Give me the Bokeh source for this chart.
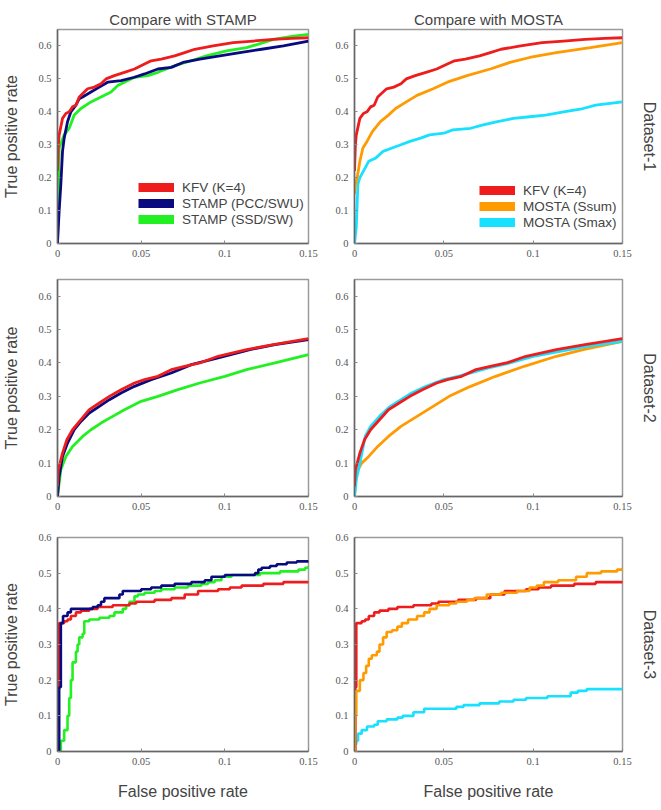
import math
from bokeh.plotting import figure
from bokeh.models import Range1d, FixedTicker, Legend, LegendItem, LinearAxis
from bokeh.layouts import column, row
from bokeh.embed import file_html
from bokeh.resources import INLINE

# ---------------- data ----------------
x_ticks = [0, 0.05, 0.1, 0.15]
x_tick_labels = ["0", "0.05", "0.1", "0.15"]
y_ticks = [0, 0.1, 0.2, 0.3, 0.4, 0.5, 0.6]
y_tick_labels = ["0", "0.1", "0.2", "0.3", "0.4", "0.5", "0.6"]

col_titles = ["Compare with STAMP", "Compare with MOSTA"]
row_titles = ["Dataset-1", "Dataset-2", "Dataset-3"]
y_label = "True positive rate"
x_label = "False positive rate"
legend_left = ["KFV (K=4)", "STAMP (PCC/SWU)", "STAMP (SSD/SW)"]
legend_right = ["KFV (K=4)", "MOSTA (Ssum)", "MOSTA (Smax)"]

# Dataset-1
d1_kfv_x = [0, 0.0005, 0.001, 0.003, 0.005, 0.007, 0.009, 0.011, 0.013, 0.016, 0.018, 0.022, 0.026, 0.029, 0.034, 0.040, 0.046, 0.052, 0.056, 0.062, 0.070, 0.076, 0.082, 0.093, 0.105, 0.117, 0.129, 0.140, 0.150]
d1_kfv_y = [0.22, 0.30, 0.33, 0.38, 0.395, 0.40, 0.415, 0.42, 0.445, 0.46, 0.47, 0.475, 0.485, 0.50, 0.51, 0.52, 0.53, 0.545, 0.555, 0.56, 0.57, 0.58, 0.59, 0.60, 0.61, 0.615, 0.62, 0.623, 0.625]
d1_pcc_x = [0, 0.001, 0.002, 0.003, 0.004, 0.006, 0.008, 0.011, 0.013, 0.015, 0.020, 0.025, 0.030, 0.038, 0.046, 0.052, 0.060, 0.068, 0.075, 0.085, 0.097, 0.109, 0.122, 0.135, 0.150]
d1_pcc_y = [0, 0.10, 0.18, 0.28, 0.32, 0.37, 0.40, 0.42, 0.44, 0.445, 0.46, 0.475, 0.49, 0.495, 0.505, 0.515, 0.53, 0.535, 0.55, 0.56, 0.57, 0.58, 0.59, 0.60, 0.615]
d1_ssd_x = [0, 0.0005, 0.001, 0.004, 0.007, 0.010, 0.014, 0.020, 0.026, 0.032, 0.036, 0.040, 0.046, 0.054, 0.060, 0.070, 0.080, 0.089, 0.101, 0.113, 0.123, 0.129, 0.141, 0.150]
d1_ssd_y = [0, 0.15, 0.29, 0.33, 0.35, 0.39, 0.41, 0.43, 0.445, 0.46, 0.48, 0.49, 0.505, 0.51, 0.52, 0.54, 0.555, 0.57, 0.585, 0.595, 0.61, 0.62, 0.63, 0.635]
d1_ssum_x = [0, 0.0005, 0.0015, 0.003, 0.0047, 0.007, 0.010, 0.0145, 0.019, 0.023, 0.029, 0.035, 0.044, 0.052, 0.063, 0.076, 0.087, 0.098, 0.113, 0.132, 0.150]
d1_ssum_y = [0.15, 0.18, 0.20, 0.25, 0.29, 0.31, 0.34, 0.37, 0.39, 0.41, 0.43, 0.45, 0.47, 0.49, 0.51, 0.53, 0.55, 0.565, 0.58, 0.595, 0.61]
d1_smax_x = [0, 0.001, 0.0019, 0.003, 0.005, 0.008, 0.012, 0.016, 0.021, 0.026, 0.031, 0.037, 0.042, 0.050, 0.055, 0.065, 0.072, 0.080, 0.089, 0.098, 0.107, 0.117, 0.128, 0.135, 0.150]
d1_smax_y = [0, 0.05, 0.18, 0.20, 0.22, 0.25, 0.26, 0.28, 0.29, 0.30, 0.31, 0.32, 0.33, 0.335, 0.345, 0.35, 0.36, 0.37, 0.38, 0.385, 0.39, 0.40, 0.41, 0.42, 0.43]

# Dataset-2
d2_kfv_x = [0, 0.0005, 0.002, 0.003, 0.0056, 0.009, 0.014, 0.019, 0.025, 0.031, 0.038, 0.046, 0.052, 0.060, 0.068, 0.076, 0.085, 0.096, 0.113, 0.129, 0.150]
d2_kfv_y = [0.03, 0.08, 0.11, 0.13, 0.17, 0.20, 0.23, 0.26, 0.28, 0.30, 0.32, 0.34, 0.35, 0.36, 0.38, 0.39, 0.40, 0.42, 0.44, 0.455, 0.473]
d2_pcc_x = [0, 0.001, 0.003, 0.006, 0.010, 0.014, 0.019, 0.025, 0.031, 0.038, 0.046, 0.056, 0.068, 0.080, 0.096, 0.115, 0.130, 0.150]
d2_pcc_y = [0, 0.06, 0.12, 0.16, 0.20, 0.225, 0.25, 0.27, 0.29, 0.31, 0.33, 0.35, 0.37, 0.395, 0.415, 0.44, 0.455, 0.47]
d2_ssd_x = [0, 0.001, 0.002, 0.005, 0.009, 0.015, 0.020, 0.026, 0.033, 0.040, 0.050, 0.060, 0.072, 0.085, 0.100, 0.113, 0.130, 0.150]
d2_ssd_y = [0, 0.04, 0.08, 0.12, 0.15, 0.18, 0.20, 0.22, 0.24, 0.26, 0.285, 0.30, 0.32, 0.34, 0.36, 0.38, 0.40, 0.425]
d2_ssum_x = [0, 0.001, 0.004, 0.008, 0.013, 0.019, 0.026, 0.035, 0.044, 0.053, 0.065, 0.079, 0.095, 0.113, 0.128, 0.150]
d2_ssum_y = [0, 0.07, 0.10, 0.12, 0.15, 0.18, 0.21, 0.24, 0.27, 0.30, 0.33, 0.36, 0.39, 0.42, 0.44, 0.465]
d2_smax_x = [0, 0.001, 0.003, 0.006, 0.009, 0.014, 0.020, 0.026, 0.032, 0.040, 0.050, 0.058, 0.065, 0.075, 0.087, 0.100, 0.115, 0.130, 0.150]
d2_smax_y = [0, 0.05, 0.10, 0.18, 0.21, 0.24, 0.27, 0.29, 0.31, 0.33, 0.35, 0.36, 0.37, 0.385, 0.40, 0.42, 0.435, 0.45, 0.465]

# Dataset-3
d3_kfv_x = [0, 0.0005, 0.001, 0.004, 0.006, 0.008, 0.011, 0.014, 0.019, 0.024, 0.033, 0.043, 0.047, 0.058, 0.068, 0.076, 0.084, 0.096, 0.103, 0.110, 0.123, 0.135, 0.150]
d3_kfv_y = [0, 0.18, 0.36, 0.365, 0.37, 0.38, 0.39, 0.395, 0.40, 0.405, 0.41, 0.415, 0.42, 0.425, 0.43, 0.44, 0.45, 0.455, 0.46, 0.465, 0.47, 0.475, 0.478]
d3_pcc_x = [0, 0.001, 0.002, 0.0033, 0.006, 0.008, 0.021, 0.024, 0.026, 0.028, 0.037, 0.039, 0.050, 0.056, 0.062, 0.070, 0.080, 0.088, 0.092, 0.100, 0.118, 0.120, 0.122, 0.127, 0.131, 0.137, 0.143, 0.150]
d3_pcc_y = [0, 0.18, 0.36, 0.38, 0.39, 0.40, 0.405, 0.41, 0.42, 0.43, 0.44, 0.45, 0.455, 0.46, 0.465, 0.47, 0.475, 0.48, 0.49, 0.495, 0.50, 0.51, 0.515, 0.52, 0.525, 0.53, 0.533, 0.535]
d3_ssd_x = [0, 0.002, 0.004, 0.006, 0.007, 0.008, 0.009, 0.011, 0.012, 0.013, 0.015, 0.016, 0.019, 0.025, 0.031, 0.034, 0.039, 0.041, 0.043, 0.046, 0.048, 0.052, 0.058, 0.062, 0.070, 0.078, 0.086, 0.090, 0.094, 0.098, 0.104, 0.121, 0.133, 0.144, 0.148, 0.150]
d3_ssd_y = [0, 0.03, 0.06, 0.10, 0.15, 0.20, 0.25, 0.28, 0.30, 0.32, 0.33, 0.365, 0.37, 0.375, 0.38, 0.39, 0.40, 0.41, 0.42, 0.435, 0.44, 0.445, 0.45, 0.455, 0.46, 0.465, 0.47, 0.475, 0.48, 0.49, 0.495, 0.50, 0.505, 0.51, 0.515, 0.52]
d3_ssum_x = [0, 0.0003, 0.001, 0.003, 0.005, 0.0065, 0.008, 0.0097, 0.0125, 0.014, 0.016, 0.018, 0.021, 0.024, 0.0265, 0.030, 0.035, 0.039, 0.042, 0.046, 0.053, 0.057, 0.063, 0.067, 0.074, 0.082, 0.091, 0.098, 0.102, 0.106, 0.114, 0.124, 0.130, 0.138, 0.147, 0.150]
d3_ssum_y = [0, 0.10, 0.17, 0.20, 0.22, 0.24, 0.26, 0.27, 0.28, 0.30, 0.32, 0.335, 0.34, 0.35, 0.36, 0.37, 0.38, 0.39, 0.40, 0.41, 0.415, 0.42, 0.425, 0.43, 0.44, 0.445, 0.45, 0.46, 0.465, 0.475, 0.48, 0.49, 0.50, 0.505, 0.51, 0.515]
d3_smax_x = [0, 0.001, 0.002, 0.004, 0.007, 0.011, 0.013, 0.018, 0.024, 0.027, 0.033, 0.039, 0.057, 0.061, 0.070, 0.081, 0.089, 0.096, 0.108, 0.121, 0.125, 0.130, 0.150]
d3_smax_y = [0.02, 0.03, 0.05, 0.06, 0.07, 0.075, 0.085, 0.09, 0.095, 0.10, 0.11, 0.12, 0.125, 0.13, 0.135, 0.14, 0.145, 0.15, 0.155, 0.165, 0.17, 0.175, 0.175]

y_max = [0.65, 0.65, 0.6]

C_RED = "#ee1c1c"
C_NAVY = "#0a0a80"
C_GREEN = "#22f022"
C_ORANGE = "#ff9a00"
C_CYAN = "#18e0ff"

SANS = "Liberation Sans"
TICKF = "Liberation Serif"

left_series = [
    [(d1_ssd_x, d1_ssd_y, C_GREEN), (d1_pcc_x, d1_pcc_y, C_NAVY), (d1_kfv_x, d1_kfv_y, C_RED)],
    [(d2_ssd_x, d2_ssd_y, C_GREEN), (d2_pcc_x, d2_pcc_y, C_NAVY), (d2_kfv_x, d2_kfv_y, C_RED)],
    [(d3_ssd_x, d3_ssd_y, C_GREEN), (d3_kfv_x, d3_kfv_y, C_RED), (d3_pcc_x, d3_pcc_y, C_NAVY)],
]
right_series = [
    [(d1_smax_x, d1_smax_y, C_CYAN), (d1_ssum_x, d1_ssum_y, C_ORANGE), (d1_kfv_x, d1_kfv_y, C_RED)],
    [(d2_ssum_x, d2_ssum_y, C_ORANGE), (d2_smax_x, d2_smax_y, C_CYAN), (d2_kfv_x, d2_kfv_y, C_RED)],
    [(d3_smax_x, d3_smax_y, C_CYAN), (d3_kfv_x, d3_kfv_y, C_RED), (d3_ssum_x, d3_ssum_y, C_ORANGE)],
]

# layout geometry per row: (border_top, frame_height, border_bottom)
row_geom = [(29, 214, 19), (17, 217, 26), (15, 214, 57)]
# per column: (border_left, frame_width, border_right)
col_geom = [(57, 251, 22), (24, 269, 37)]


def make_fig(r, c):
    bt, fh, bb = row_geom[r]
    bl, fw, br = col_geom[c]
    p = figure(width=bl + fw + br, height=bt + fh + bb,
               min_border_top=bt, min_border_bottom=bb,
               min_border_left=bl, min_border_right=br,
               x_range=Range1d(0, 0.15), y_range=Range1d(0, y_max[r]),
               output_backend="svg", toolbar_location=None,
               background_fill_color="white", border_fill_color="white")
    p.grid.visible = False
    p.outline_line_color = "#9a9a9a"
    p.outline_line_width = 1.5
    for ax, ticks, labels in ((p.xaxis, x_ticks, x_tick_labels), (p.yaxis, y_ticks, y_tick_labels)):
        ax.ticker = FixedTicker(ticks=ticks)
        ax.major_label_overrides = {t: l for t, l in zip(ticks, labels)}
        ax.axis_line_color = "#666666"
        ax.axis_line_width = 1.5
        ax.major_tick_in = 3
        ax.major_tick_out = 0
        ax.major_tick_line_color = "#888888"
        ax.minor_tick_line_color = None
        ax.major_label_text_font = TICKF
        ax.major_label_text_font_size = "10.5px"
        ax.major_label_text_color = "#555555"
    p.xaxis.major_label_standoff = 6
    p.yaxis.major_label_standoff = 6
    if r == 0:
        p.title.text = col_titles[c]
        p.title.text_font = SANS
        p.title.text_font_size = "15px"
        p.title.text_font_style = "normal"
        p.title.align = "center"
        p.title.standoff = 4
        p.title.offset = 0
    if c == 0:
        p.yaxis.axis_label = y_label
        p.yaxis.axis_label_text_font = SANS
        p.yaxis.axis_label_text_font_size = "16px"
        p.yaxis.axis_label_text_font_style = "normal"
        p.yaxis.axis_label_standoff = 15
    if r == 2:
        p.xaxis.axis_label = x_label
        p.xaxis.axis_label_text_font = SANS
        p.xaxis.axis_label_text_font_size = "16px"
        p.xaxis.axis_label_text_font_style = "normal"
        p.xaxis.axis_label_standoff = 15
    if c == 1:
        rax = LinearAxis(ticker=FixedTicker(ticks=[]), axis_label=row_titles[r],
                         axis_line_color=None, major_tick_line_color=None,
                         minor_tick_line_color=None, major_tick_out=0, major_tick_in=0,
                         minor_tick_out=0, major_label_standoff=0,
                         axis_label_standoff=18, axis_label_text_font=SANS,
                         axis_label_text_font_size="16px",
                         axis_label_text_font_style="normal")
        p.add_layout(rax, "right")

    series = left_series[r] if c == 0 else right_series[r]
    for xs, ys, col in series:
        if r == 2:
            p.step(xs, ys, mode="after", line_color=col, line_width=2.6)
        else:
            p.line(xs, ys, line_color=col, line_width=2.8)

    if r == 0:
        labels = legend_left if c == 0 else legend_right
        cols = [C_RED, C_NAVY, C_GREEN] if c == 0 else [C_RED, C_ORANGE, C_CYAN]
        items = []
        for lab, col in zip(labels, cols):
            dummy = p.line([math.nan, math.nan], [math.nan, math.nan], line_color=col,
                           line_width=9, line_cap="butt")
            items.append(LegendItem(label=lab, renderers=[dummy]))
        loc = (81, 16) if c == 0 else (125, 13)
        leg = Legend(items=items, location=loc, glyph_width=36, glyph_height=16,
                     label_height=16, spacing=0, padding=0, margin=0, label_standoff=8,
                     label_text_font=SANS, label_text_font_size="13.5px",
                     background_fill_alpha=0, border_line_alpha=0)
        p.add_layout(leg)
    return p


rows = []
for r in range(3):
    rows.append(row(make_fig(r, 0), make_fig(r, 1)))
layout = column(*rows)

open("out.html", "w").write(file_html(layout, INLINE))
